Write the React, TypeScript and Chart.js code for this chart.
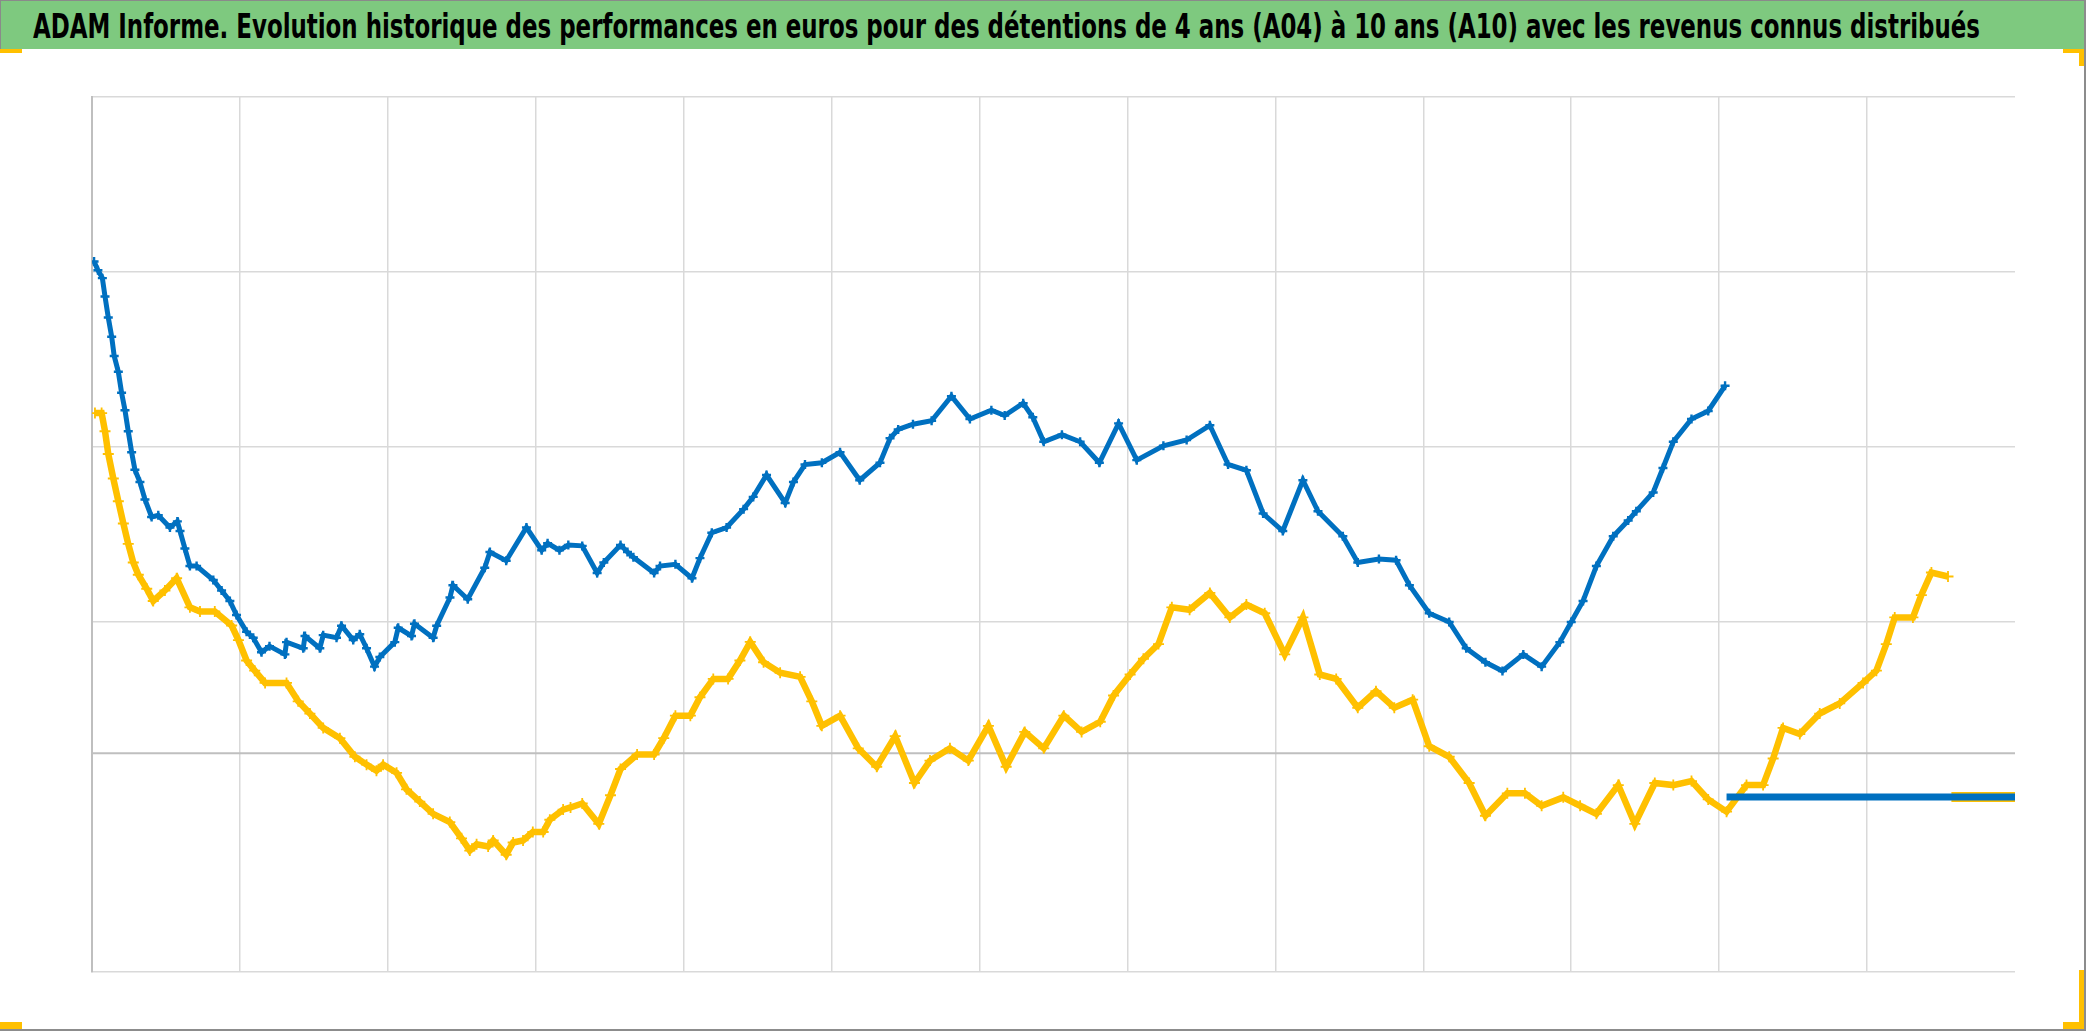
import React, { useEffect, useRef } from "react";
import { Chart, registerables } from "chart.js";

Chart.register(...registerables);

const TITLE =
  "ADAM Informe. Evolution historique des performances en euros pour des détentions de 4 ans (A04) à 10 ans (A10) avec les revenus connus distribués";

// Axis ranges (no tick labels are shown in the reference)
const X_MIN = 0;
const X_MAX = 13;
const X_STEP = 1;
const Y_MIN = -1;
const Y_MAX = 4;
const Y_STEP = 1;
const AXIS_CROSS = 0.25; // horizontal axis line position
const HIDDEN_Y_GRID = 0; // no gridline drawn at this value in the reference

// Blue series (A10)
const blueT = [
  0.014, 0.04, 0.07, 0.088, 0.11, 0.133, 0.15, 0.178, 0.2, 0.223, 0.245, 0.268, 0.29, 0.324, 0.358, 0.403,
  0.448, 0.527, 0.577, 0.595, 0.628, 0.662, 0.707, 0.82, 0.876, 0.932, 0.977, 1.045, 1.09, 1.146, 1.2,
  1.304, 1.315, 1.428, 1.44, 1.54, 1.563, 1.653, 1.687, 1.766, 1.81, 1.856, 1.91, 1.946, 2.047, 2.07,
  2.16, 2.18, 2.306, 2.33, 2.42, 2.44, 2.54, 2.655, 2.69, 2.8, 2.937, 3.04, 3.08, 3.16, 3.22, 3.314,
  3.415, 3.46, 3.573, 3.62, 3.66, 3.8, 3.84, 3.944, 4.056, 4.11, 4.19, 4.29, 4.405, 4.47, 4.56, 4.686,
  4.742, 4.82, 4.934, 5.057, 5.19, 5.327, 5.395, 5.45, 5.55, 5.676, 5.81, 5.935, 6.08, 6.17, 6.295,
  6.36, 6.434, 6.557, 6.68, 6.81, 6.94, 7.063, 7.243, 7.4, 7.557, 7.68, 7.804, 7.917, 8.05, 8.186,
  8.288, 8.456, 8.557, 8.7, 8.816, 8.906, 9.04, 9.175, 9.29, 9.42, 9.535, 9.676, 9.8, 9.923, 10.0,
  10.08, 10.17, 10.284, 10.385, 10.44, 10.554, 10.62, 10.69, 10.813, 10.926, 11.04,
];
const blueV = [
  3.06, 3.01, 2.965, 2.86, 2.74, 2.63, 2.52, 2.43, 2.31, 2.21, 2.09, 1.97, 1.87, 1.8, 1.7, 1.6,
  1.61, 1.54, 1.575, 1.52, 1.42, 1.32, 1.32, 1.24, 1.18, 1.12, 1.04, 0.944, 0.91, 0.827, 0.862,
  0.815, 0.885, 0.85, 0.92, 0.85, 0.925, 0.91, 0.979, 0.897, 0.93, 0.85, 0.745, 0.8, 0.885, 0.967,
  0.92, 0.99, 0.91, 0.979, 1.14, 1.21, 1.13, 1.31, 1.4, 1.35, 1.54, 1.41, 1.45, 1.41, 1.44, 1.435,
  1.28, 1.34, 1.44, 1.4, 1.37, 1.28, 1.32, 1.33, 1.25, 1.365, 1.51, 1.54, 1.645, 1.715, 1.84, 1.68,
  1.8, 1.9, 1.91, 1.97, 1.81, 1.91, 2.05, 2.1, 2.13, 2.15, 2.29, 2.16, 2.21, 2.18, 2.25,
  2.17, 2.03, 2.07, 2.03, 1.91, 2.135, 1.925, 2.007, 2.04, 2.124, 1.9, 1.867, 1.62, 1.52, 1.81,
  1.633, 1.49, 1.34, 1.36, 1.353, 1.21, 1.05, 1.0, 0.85, 0.77, 0.72, 0.815, 0.745, 0.885, 1.0,
  1.12, 1.32, 1.49, 1.58, 1.633, 1.74, 1.88, 2.03, 2.16, 2.206, 2.35,
];
// Blue series after its last known value (zeros)
const blueZeroT = [11.05, 13];
const blueZeroV = [0, 0];

// Yellow series (A04)
const yellowT = [
  0.02, 0.065, 0.088, 0.11, 0.144, 0.178, 0.212, 0.245, 0.279, 0.313, 0.37, 0.414, 0.493, 0.572, 0.662,
  0.73, 0.83, 0.944, 0.99, 1.045, 1.1, 1.17, 1.315, 1.394, 1.473, 1.563, 1.676, 1.777, 1.856, 1.923,
  1.968, 2.059, 2.126, 2.216, 2.306, 2.419, 2.498, 2.554, 2.6, 2.678, 2.712, 2.8, 2.847, 2.914, 2.98,
  3.05, 3.095, 3.185, 3.235, 3.314, 3.426, 3.505, 3.573, 3.685, 3.8, 3.865, 3.944, 4.045, 4.11, 4.2,
  4.3, 4.38, 4.45, 4.54, 4.652, 4.787, 4.866, 4.934, 5.057, 5.18, 5.305, 5.43, 5.56, 5.665, 5.8,
  5.924, 6.06, 6.18, 6.306, 6.434, 6.57, 6.69, 6.816, 6.906, 7.018, 7.108, 7.21, 7.3, 7.42, 7.557,
  7.692, 7.804, 7.928, 8.063, 8.186, 8.3, 8.411, 8.557, 8.68, 8.804, 8.928, 9.04, 9.175, 9.31, 9.42,
  9.568, 9.687, 9.8, 9.946, 10.06, 10.17, 10.318, 10.43, 10.565, 10.69, 10.813, 10.926, 11.05, 11.185,
  11.297, 11.365, 11.432, 11.545, 11.68, 11.815, 11.973, 12.063, 12.13, 12.187, 12.31, 12.367, 12.435,
  12.547,
];
const yellowV = [
  2.194, 2.194, 2.09, 1.96, 1.82, 1.69, 1.563, 1.446, 1.34, 1.27, 1.19, 1.12, 1.18, 1.25, 1.084,
  1.06, 1.06, 0.98, 0.897, 0.78, 0.722, 0.652, 0.652, 0.547, 0.477, 0.395, 0.336, 0.23, 0.185, 0.15,
  0.185, 0.138, 0.044, -0.026, -0.096, -0.143, -0.236, -0.306, -0.27, -0.283, -0.248, -0.33, -0.26, -0.248, -0.2,
  -0.2, -0.13, -0.072, -0.06, -0.037, -0.154, 0.01, 0.16, 0.243, 0.243, 0.336, 0.465, 0.465, 0.57, 0.675,
  0.675, 0.78, 0.886, 0.77, 0.71, 0.687, 0.547, 0.407, 0.465, 0.278, 0.173, 0.348, 0.08, 0.208, 0.278,
  0.208, 0.407, 0.173, 0.372, 0.278, 0.465, 0.372, 0.43, 0.58, 0.7, 0.79, 0.874, 1.084, 1.07, 1.166,
  1.026, 1.1, 1.05, 0.815, 1.026, 0.7, 0.675, 0.51, 0.605, 0.51, 0.556, 0.29, 0.23, 0.08, -0.107,
  0.021, 0.021, -0.05, -0.002, -0.05, -0.096, 0.068, -0.154, 0.08, 0.068, 0.091, -0.014, -0.084, 0.068,
  0.068, 0.22, 0.395, 0.36, 0.477, 0.535, 0.652, 0.722, 0.874, 1.026, 1.026, 1.154, 1.283,
  1.26,
];
const yellowZeroT = [12.57, 13];
const yellowZeroV = [0, 0];

const BLUE = "#0070c0";
const YELLOW = "#ffc000";
const GRID = "#d9d9d9";
const AXIS = "#bfbfbf";

const W = 2086;
const H = 1031;

const zip = (t: number[], v: number[]) => t.map((x, i) => ({ x, y: v[i] }));

const axisCrossPlugin = {
  id: "axisCross",
  beforeDatasetsDraw(chart: any) {
    const { ctx, chartArea, scales } = chart;
    const y = scales.y.getPixelForValue(AXIS_CROSS);
    ctx.save();
    ctx.strokeStyle = AXIS;
    ctx.lineWidth = 2;
    ctx.beginPath();
    ctx.moveTo(chartArea.left, y);
    ctx.lineTo(chartArea.right, y);
    ctx.stroke();
    ctx.restore();
  },
};

export default function App() {
  const canvasRef = useRef<HTMLCanvasElement | null>(null);
  const titleRef = useRef<HTMLSpanElement | null>(null);

  useEffect(() => {
    const fit = () => {
      const s = titleRef.current;
      if (!s) return;
      s.style.transform = "none";
      const w = s.getBoundingClientRect().width;
      if (w > 0) s.style.transform = `scaleX(${1947 / w})`;
    };
    fit();
    (document as any).fonts?.ready?.then(fit);

    const canvas = canvasRef.current!;
    const chart = new Chart(canvas, {
      type: "scatter",
      data: {
        datasets: [
          {
            label: "A10",
            data: zip(blueT, blueV),
            showLine: true,
            borderColor: BLUE,
            backgroundColor: BLUE,
            borderWidth: 5,
            pointStyle: "cross",
            pointRadius: 4.5,
            pointBorderWidth: 2.4,
            pointBorderColor: BLUE,
          },
          {
            label: "A10 (0)",
            data: zip(blueZeroT, blueZeroV),
            showLine: true,
            borderColor: BLUE,
            borderWidth: 7,
            pointRadius: 0,
          },
          {
            label: "A04",
            data: zip(yellowT, yellowV),
            showLine: true,
            borderColor: YELLOW,
            backgroundColor: YELLOW,
            borderWidth: 6.5,
            pointStyle: "cross",
            pointRadius: 5.5,
            pointBorderWidth: 1.8,
            pointBorderColor: YELLOW,
          },
          {
            label: "A04 (0)",
            data: zip(yellowZeroT, yellowZeroV),
            showLine: true,
            borderColor: YELLOW,
            borderWidth: 10,
            pointRadius: 0,
          },
        ],
      },
      options: {
        responsive: false,
        animation: false,
        devicePixelRatio: 1,
        layout: { padding: { left: 92, top: 97, right: 71, bottom: 59 } },
        plugins: {
          legend: { display: false },
          title: { display: false },
          tooltip: { enabled: false },
        },
        scales: {
          x: {
            type: "linear",
            min: X_MIN,
            max: X_MAX,
            ticks: { display: false, stepSize: X_STEP },
            grid: {
              drawTicks: false,
              lineWidth: 1.5,
              color: (c: any) => (c.tick && c.tick.value === X_MAX ? "rgba(0,0,0,0)" : GRID),
            },
            border: { display: false },
          },
          y: {
            type: "linear",
            min: Y_MIN,
            max: Y_MAX,
            ticks: { display: false, stepSize: Y_STEP },
            grid: {
              drawTicks: false,
              lineWidth: 1.5,
              color: (c: any) => (c.tick && c.tick.value === HIDDEN_Y_GRID ? "rgba(0,0,0,0)" : GRID),
            },
            border: { display: true, color: AXIS, width: 2 },
          },
        },
      },
      plugins: [axisCrossPlugin],
    });
    return () => chart.destroy();
  }, []);

  const yellowMark = (s: React.CSSProperties) => (
    <div style={{ position: "absolute", background: YELLOW, ...s }} />
  );

  return (
    <div style={{ position: "relative", width: W, height: H, overflow: "hidden", background: "#fff" }}>
      <style>{`body{margin:0}`}</style>
      <canvas ref={canvasRef} width={W} height={H} style={{ position: "absolute", left: 0, top: 0 }} />
      {/* title band */}
      <div
        style={{
          position: "absolute",
          left: 0,
          top: 0,
          width: 2084,
          height: 49,
          background: "#7ec97f",
          borderTop: "1px solid #8a8a8a",
          borderLeft: "1px solid #8a8a8a",
          boxSizing: "border-box",
        }}
      >
        <span
          ref={titleRef}
          style={{
            position: "absolute",
            left: 32,
            top: 9,
            whiteSpace: "nowrap",
            fontFamily: "'Liberation Sans Narrow', 'DejaVu Sans Condensed', 'Open Sans', sans-serif",
            fontWeight: 700,
            fontSize: 33,
            lineHeight: "33px",
            color: "#000",
            transformOrigin: "left center",
            display: "inline-block",
          }}
        >
          {TITLE}
        </span>
      </div>
      {/* frame lines */}
      <div style={{ position: "absolute", left: 2084, top: 0, width: 2, height: H, background: "#8c8c8c" }} />
      <div style={{ position: "absolute", left: 0, top: 1029, width: W, height: 2, background: "#8c8c8c" }} />
      {/* corner marks */}
      {yellowMark({ left: 0, top: 49, width: 22, height: 4 })}
      {yellowMark({ left: 2063, top: 49, width: 21, height: 4 })}
      {yellowMark({ left: 2079, top: 49, width: 5, height: 17 })}
      {yellowMark({ left: 0, top: 1022, width: 22, height: 7 })}
      {yellowMark({ left: 2063, top: 1022, width: 21, height: 7 })}
      {yellowMark({ left: 2079, top: 970, width: 5, height: 59 })}
    </div>
  );
}
